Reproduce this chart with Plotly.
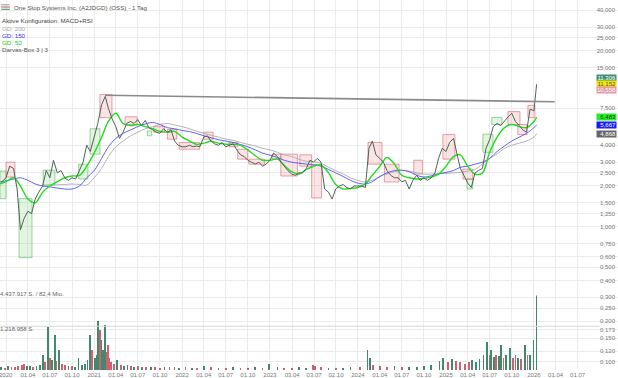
import math
import plotly.graph_objects as go

# ---------------- data ----------------
price_dates = ["2019-12-09"] + [f"{y}-{m:02d}-{d:02d}" for y in range(2020, 2026) for m in range(1, 13) for d in (1, 16)] + ["2026-01-01", "2026-01-12"]
price_close = [2.1,
    2.3, 2.8, 2.7, 1.9, 0.95, 1.15, 1.3, 1.25, 1.6, 1.8,
    2.0, 2.6, 2.3, 3.1, 2.5, 2.6, 2.3, 2.2, 2.3, 2.25,
    2.6, 3.0, 4.0, 3.6, 4.6, 5.8, 8.0, 9.2, 7.5, 6.3,
    5.5, 4.5, 5.0, 5.8, 6.0, 5.8, 6.2, 5.6, 6.1, 5.4,
    5.2, 5.0, 4.9, 5.3, 5.0, 5.2, 4.3, 4.0, 3.9, 3.9,
    4.0, 3.9, 3.95, 3.9, 4.6, 4.7, 4.3, 4.1, 4.0, 4.2,
    3.9, 4.0, 4.1, 3.7, 3.4, 3.3, 3.1, 3.0, 2.9, 3.0,
    2.8, 2.9, 3.1, 3.5, 3.3, 3.0, 2.8, 2.6, 2.45, 2.4,
    2.5, 2.5, 2.7, 3.1, 3.0, 3.2, 3.0, 1.9, 1.8, 1.6,
    1.9, 2.0, 2.05, 1.95, 1.9, 2.0, 2.0, 2.0, 1.95, 3.8,
    4.3, 3.4, 3.2, 3.0, 2.6, 2.4, 2.3, 2.3, 2.15, 2.2,
    1.9, 2.2, 2.4, 2.2, 2.3, 2.2, 2.3, 2.5, 3.2, 3.8,
    3.6, 4.2, 4.5, 3.4, 2.7, 2.4, 2.1, 1.95, 2.5, 2.6,
    2.7, 3.8, 4.4, 5.5, 5.8, 5.6, 6.1, 6.5, 6.9, 6.0,
    5.6, 5.2, 5.0, 7.4, 7.2, 11.3]

ma_dates = ["2019-12-09"] + [f"{y}-{m:02d}-01" for y in range(2020, 2026) for m in range(1, 13)] + ["2026-01-01", "2026-01-12"]
gd50 = [2.07,
    2.15, 2.3, 2.0, 1.6, 1.5, 1.8, 2.0, 2.15, 2.3, 2.37,
    2.4, 2.8, 3.5, 4.6, 6.0, 6.9, 5.8, 5.6, 5.7, 5.5,
    5.3, 5.07, 5.0, 5.07, 4.6, 4.3, 4.07, 4.15, 4.28, 4.15,
    4.07, 4.07, 4.0, 3.7, 3.35, 3.1, 3.1, 3.16, 2.85, 2.55,
    2.45, 2.65, 2.8, 2.86, 2.5, 2.05, 1.9, 1.92, 1.95, 2.07,
    2.4, 2.8, 3.25, 2.9, 2.4, 2.3, 2.25, 2.28, 2.33, 2.45,
    2.8, 3.3, 3.4, 2.8, 2.45, 2.5, 3.55, 4.6, 5.4, 5.7,
    5.5, 5.4, 6.0, 6.483]
gd150 = [2.15,
    2.18, 2.25, 2.3, 2.2, 2.07, 2.0, 1.97, 1.93, 1.9, 1.9,
    2.0, 2.3, 2.6, 3.2, 3.9, 4.5, 4.9, 5.2, 5.5, 5.75,
    5.9, 5.7, 5.4, 5.3, 5.15, 5.05, 4.9, 4.7, 4.55, 4.4,
    4.3, 4.2, 4.05, 3.9, 3.7, 3.5, 3.38, 3.25, 3.1, 3.0,
    2.95, 2.9, 2.88, 2.8, 2.65, 2.5, 2.35, 2.2, 2.1, 2.07,
    2.15, 2.35, 2.5, 2.6, 2.62, 2.55, 2.4, 2.33, 2.38, 2.45,
    2.52, 2.6, 2.75, 2.8, 2.9, 3.0, 3.2, 3.6, 3.95, 4.3,
    4.6, 4.9, 5.4, 5.667]
gd200_dates = ma_dates[6:]
gd200 = [2.0, 2.02, 2.04, 2.05, 2.07, 2.05, 2.03, 2.3, 2.7, 3.3,
    3.9, 4.3, 4.7, 5.0, 5.3, 5.5, 5.7, 5.8, 5.65, 5.5,
    5.3, 5.1, 4.9, 4.75, 4.6, 4.45, 4.35, 4.2, 4.07, 3.95,
    3.8, 3.7, 3.55, 3.4, 3.3, 3.15, 3.05, 3.02, 2.95, 2.75,
    2.6, 2.45, 2.3, 2.2, 2.14, 2.2, 2.35, 2.45, 2.55, 2.6,
    2.58, 2.5, 2.45, 2.45, 2.47, 2.48, 2.5, 2.52, 2.58, 2.65,
    2.9, 3.2, 3.45, 3.8, 4.0, 4.15, 4.3, 4.6, 4.868]

# Darvas boxes: start, end, low, high
box_up = [
    ("2019-12-07", "2020-01-01", 1.61, 2.58),
    ("2020-02-24", "2020-04-18", 0.59, 1.61),
    ("2020-06-03", "2020-07-22", 2.04, 2.62),
    ("2020-10-29", "2020-12-06", 2.25, 2.90),
    ("2020-12-15", "2021-01-25", 3.44, 5.30),
    ("2021-08-10", "2021-08-28", 4.70, 5.10),
    ("2025-03-29", "2025-04-22", 1.90, 2.25),
    ("2025-06-03", "2025-07-15", 3.55, 4.83),
    ("2025-07-10", "2025-08-21", 5.70, 6.43),
]
box_down = [
    ("2020-01-01", "2020-02-07", 2.33, 3.00),
    ("2021-01-25", "2021-03-16", 6.40, 9.50),
    ("2021-05-09", "2021-06-28", 5.70, 6.50),
    ("2021-09-05", "2021-10-20", 5.00, 5.50),
    ("2021-11-01", "2021-12-10", 4.44, 5.25),
    ("2021-12-20", "2022-03-15", 3.74, 4.20),
    ("2022-04-01", "2022-05-10", 4.44, 5.00),
    ("2022-07-15", "2022-08-20", 3.90, 4.20),
    ("2022-08-20", "2022-10-01", 3.16, 3.74),
    ("2022-10-05", "2022-12-10", 2.90, 3.16),
    ("2023-01-10", "2023-02-15", 3.16, 3.44),
    ("2023-02-15", "2023-04-25", 2.37, 3.44),
    ("2023-05-05", "2023-06-23", 2.80, 3.40),
    ("2023-06-23", "2023-08-03", 1.63, 2.85),
    ("2024-02-12", "2024-04-10", 2.90, 4.20),
    ("2024-04-20", "2024-06-20", 2.14, 2.90),
    ("2024-08-20", "2024-09-25", 2.45, 3.10),
    ("2024-12-19", "2025-02-07", 3.16, 4.80),
    ("2025-03-12", "2025-04-22", 2.25, 2.67),
    ("2025-09-15", "2025-11-04", 5.70, 7.10),
    ("2025-10-26", "2025-12-03", 4.80, 5.70),
    ("2025-12-07", "2026-01-05", 6.40, 7.90),
]

trend_dates = ["2021-02-15", "2026-03-28"]
trend_vals = [9.385, 8.394]

# volume (thousand shares), side u=up d=down
vol = [
    ("2019-12-12", 80, "u"), ("2019-12-27", 55, "d"), ("2020-01-10", 110, "u"), ("2020-01-24", 80, "d"),
    ("2020-02-07", 60, "d"), ("2020-02-21", 90, "d"), ("2020-03-06", 140, "d"), ("2020-03-16", 170, "d"),
    ("2020-03-27", 110, "u"), ("2020-04-09", 90, "u"), ("2020-04-23", 80, "d"), ("2020-05-07", 110, "u"),
    ("2020-05-21", 140, "u"), ("2020-06-03", 415, "u"), ("2020-06-12", 220, "d"), ("2020-06-23", 1190, "u"),
    ("2020-07-02", 330, "d"), ("2020-07-10", 280, "u"), ("2020-07-22", 970, "u"), ("2020-07-29", 250, "d"),
    ("2020-08-07", 550, "u"), ("2020-08-19", 170, "d"), ("2020-09-02", 140, "d"), ("2020-09-16", 110, "u"),
    ("2020-09-30", 110, "d"), ("2020-10-14", 80, "u"), ("2020-10-28", 330, "u"), ("2020-11-11", 140, "u"),
    ("2020-11-24", 170, "u"), ("2020-12-04", 280, "u"), ("2020-12-15", 970, "u"), ("2020-12-22", 550, "d"),
    ("2021-01-04", 330, "u"), ("2021-01-11", 420, "u"), ("2021-01-17", 1360, "u"), ("2021-01-25", 1110, "d"),
    ("2021-02-01", 830, "u"), ("2021-02-08", 550, "u"), ("2021-02-15", 1250, "u"), ("2021-02-22", 500, "d"),
    ("2021-02-26", 690, "d"), ("2021-03-05", 330, "d"), ("2021-03-12", 220, "d"), ("2021-03-24", 170, "d"),
    ("2021-04-07", 280, "u"), ("2021-04-21", 140, "d"), ("2021-05-05", 110, "u"), ("2021-05-19", 140, "u"),
    ("2021-06-02", 110, "d"), ("2021-06-16", 80, "u"), ("2021-07-01", 90, "d"), ("2021-07-20", 70, "u"),
    ("2021-08-05", 80, "d"), ("2021-08-25", 60, "u"), ("2021-09-10", 70, "d"), ("2021-10-01", 55, "d"),
    ("2021-10-20", 60, "u"), ("2021-11-10", 80, "d"), ("2021-12-01", 70, "d"), ("2021-12-20", 55, "u"),
    ("2022-01-15", 60, "d"), ("2022-02-10", 50, "u"), ("2022-03-05", 55, "d"), ("2022-04-01", 90, "u"),
    ("2022-05-01", 60, "d"), ("2022-06-01", 55, "u"), ("2022-07-01", 50, "d"), ("2022-08-01", 60, "u"),
    ("2022-09-01", 55, "d"), ("2022-10-01", 50, "d"), ("2022-11-01", 60, "u"), ("2022-12-01", 55, "d"),
    ("2022-12-27", 170, "u"), ("2023-02-01", 60, "u"), ("2023-03-01", 55, "d"), ("2023-04-01", 50, "d"),
    ("2023-05-01", 60, "u"), ("2023-06-01", 55, "u"), ("2023-06-28", 130, "d"), ("2023-07-06", 110, "d"),
    ("2023-08-01", 60, "d"), ("2023-09-01", 55, "u"), ("2023-10-01", 50, "d"), ("2023-11-01", 55, "u"),
    ("2023-12-01", 60, "u"), ("2024-01-10", 60, "d"), ("2024-02-10", 550, "u"), ("2024-02-20", 330, "u"),
    ("2024-03-05", 140, "d"), ("2024-04-01", 110, "d"), ("2024-05-01", 80, "d"), ("2024-06-01", 110, "u"),
    ("2024-07-01", 80, "d"), ("2024-08-01", 60, "u"), ("2024-09-01", 80, "u"), ("2024-10-01", 110, "u"),
    ("2024-11-01", 140, "u"), ("2024-12-05", 250, "u"), ("2024-12-20", 330, "u"), ("2025-01-10", 220, "d"),
    ("2025-01-25", 300, "u"), ("2025-02-10", 250, "d"), ("2025-03-01", 200, "d"), ("2025-03-20", 170, "d"),
    ("2025-04-05", 220, "d"), ("2025-04-20", 280, "u"), ("2025-05-05", 200, "u"), ("2025-05-20", 300, "u"),
    ("2025-06-05", 420, "u"), ("2025-06-20", 780, "u"), ("2025-06-30", 400, "d"), ("2025-07-08", 550, "u"),
    ("2025-07-18", 350, "u"), ("2025-07-28", 420, "d"), ("2025-08-08", 380, "u"), ("2025-08-18", 690, "u"),
    ("2025-08-28", 330, "d"), ("2025-09-08", 420, "u"), ("2025-09-25", 610, "u"), ("2025-10-06", 330, "d"),
    ("2025-10-16", 420, "d"), ("2025-10-27", 330, "u"), ("2025-11-07", 300, "d"), ("2025-11-25", 690, "u"),
    ("2025-12-05", 400, "d"), ("2025-12-15", 420, "u"), ("2025-12-30", 830, "u"), ("2026-01-12", 4438, "u"),
]
vol_ref_level = 1218.958

price_ticks = [47.5, 40, 30, 25, 20, 15, 7.5, 4, 3, 2.5, 2, 1.5, 1.25, 1, 0.75, 0.6, 0.5, 0.4,
               0.3, 0.25, 0.2, 0.173, 0.15, 0.12, 0.1, 0.087]

x_tickvals = ["2020-01-01", "2020-04-01", "2020-07-01", "2020-10-01", "2021-01-01", "2021-04-01",
              "2021-07-01", "2021-10-01", "2022-01-01", "2022-04-01", "2022-07-01", "2022-10-01",
              "2023-01-01", "2023-04-03", "2023-07-03", "2023-10-02", "2024-01-01", "2024-04-01",
              "2024-07-01", "2024-10-01", "2025-01-01", "2025-04-01", "2025-07-01", "2025-10-01",
              "2026-01-01", "2026-04-01", "2026-07-01"]
x_ticktext = ["2020", "01.04", "01.07", "01.10", "2021", "01.04", "01.07", "01.10", "2022", "01.04",
              "01.07", "01.10", "2023", "03.04", "03.07", "02.10", "2024", "01.04", "01.07", "01.10",
              "2025", "01.04", "01.07", "01.10", "2026", "01.04", "01.07"]

value_labels = [(11.306, "11,306", "#3f8f72", "white", 6),
                (11.152, "11,152", "#f5e60a", "#555", 1.5),
                (10.558, "10,558", "#e59aa6", "white", -1.5),
                (6.483, "6,483", "#22ee22", "#333", 0),
                (5.667, "5,667", "#1a1aff", "white", 0),
                (4.868, "4,868", "#666666", "white", 0)]

# ---------------- figure ----------------
fig = go.Figure()

def box_xy(boxes):
    xs, ys = [], []
    for s, e, lo, hi in boxes:
        xs += [s, e, e, s, s, None]
        ys += [lo, lo, hi, hi, lo, None]
    return xs, ys

bx, by = box_xy(box_up)
fig.add_trace(go.Scatter(x=bx, y=by, mode="lines", fill="toself", fillcolor="rgba(120,210,120,0.22)",
                         line=dict(color="rgba(80,180,80,0.7)", width=0.8), hoverinfo="skip"))
bx, by = box_xy(box_down)
fig.add_trace(go.Scatter(x=bx, y=by, mode="lines", fill="toself", fillcolor="rgba(235,130,140,0.22)",
                         line=dict(color="rgba(220,90,100,0.7)", width=0.8), hoverinfo="skip"))

fig.add_trace(go.Scatter(x=gd200_dates, y=gd200, mode="lines", line=dict(color="#b4b4b4", width=1, shape="spline")))
fig.add_trace(go.Scatter(x=ma_dates, y=gd150, mode="lines", line=dict(color="#5050ff", width=0.9, shape="spline")))
fig.add_trace(go.Scatter(x=ma_dates, y=gd50, mode="lines", line=dict(color="#22dd22", width=1.4, shape="spline")))
fig.add_trace(go.Scatter(x=price_dates, y=price_close, mode="lines", line=dict(color="#4f6358", width=1)))
fig.add_trace(go.Scatter(x=trend_dates, y=trend_vals, mode="lines", line=dict(color="#8a8a8a", width=1.6)))

up_x = [d for d, v, s in vol if s == "u"]
up_y = [v * 1000 for d, v, s in vol if s == "u"]
dn_x = [d for d, v, s in vol if s == "d"]
dn_y = [v * 1000 for d, v, s in vol if s == "d"]
bar_w = 3 * 24 * 3600 * 1000
fig.add_trace(go.Bar(x=up_x, y=up_y, yaxis="y2", marker=dict(color="#3f8a6c", line=dict(width=0)), width=bar_w))
fig.add_trace(go.Bar(x=dn_x, y=dn_y, yaxis="y2", marker=dict(color="#d06070", line=dict(width=0)), width=bar_w))

fig.add_shape(type="line", xref="paper", x0=0, x1=0.97, yref="y2", y0=vol_ref_level * 1000, y1=vol_ref_level * 1000,
              line=dict(color="#d6d6d6", width=1))

grid = "#ececec"
fig.update_layout(
    width=618, height=378,
    margin=dict(l=0, r=0, t=0, b=6),
    paper_bgcolor="white", plot_bgcolor="rgba(0,0,0,0)",
    showlegend=False, bargap=0,
    font=dict(family="Liberation Sans, Arial, sans-serif", size=6, color="#666"),
    xaxis=dict(type="date", range=["2019-12-07", "2026-12-16"], tickvals=x_tickvals, ticktext=x_ticktext,
               showgrid=True, gridcolor=grid, gridwidth=1, zeroline=False, showline=False, ticks="",
               tickfont=dict(size=6, color="#777")),
    yaxis=dict(type="log", range=[math.log10(0.087), 1.677], side="right", ticklabelposition="inside",
               tickvals=price_ticks, ticktext=[f"{v:.3f}".replace(".", ",") for v in price_ticks],
               showgrid=True, gridcolor=grid, gridwidth=1, zeroline=False, showline=False, ticks="",
               tickfont=dict(size=6, color="#777"), domain=[0, 1]),
    yaxis2=dict(domain=[0, 0.2016], range=[0, 2080000], anchor="x", showgrid=False, showticklabels=False,
                zeroline=False, showline=False, ticks=""),
)

ann = []
ann.append(dict(xref="paper", yref="paper", x=0.02, y=0.981, text="One Stop Systems Inc. (A2JDGD) (OSS) - 1 Tag",
                font=dict(size=6.2, color="#555"), xanchor="left", yanchor="middle", showarrow=False))
legend_rows = [("Aktive Konfiguration: MACD+RSI", "#444", 0.9435), ("GD: 200", "#aaaaaa", 0.922),
               ("GD: 150", "#3333ff", 0.903), ("GD: 50", "#22cc22", 0.884), ("Darvas-Box 3 | 3", "#555", 0.866)]
for t, c, yy in legend_rows:
    ann.append(dict(xref="paper", yref="paper", x=0.0, y=yy, text=t, font=dict(size=6.2, color=c),
                    xanchor="left", yanchor="middle", showarrow=False))
ann.append(dict(xref="paper", yref="paper", x=-0.004, y=1 - 296 / 372, text="4.437.917 S. / 82,4 Mio.",
                font=dict(size=6, color="#666"), xanchor="left", yanchor="middle", showarrow=False))
ann.append(dict(xref="paper", yref="paper", x=-0.004, y=1 - 331 / 372, text="1.218.958 S.",
                font=dict(size=6, color="#666"), xanchor="left", yanchor="middle", showarrow=False))
ann.append(dict(xref="x", yref="paper", x="2020-01-01", y=0, yshift=-5, text="2020",
                font=dict(size=6, color="#777"), xanchor="center", yanchor="middle", showarrow=False))
for v, t, bg, fc, sh in value_labels:
    ann.append(dict(xref="paper", yref="y", x=0.998, y=math.log10(v), yshift=sh, text=t, bgcolor=bg,
                    font=dict(size=6, color=fc), xanchor="right", yanchor="middle", showarrow=False,
                    width=19, height=6, borderpad=0, align="right"))
fig.update_layout(annotations=ann)

# legend icon lines
for i, c in enumerate(["#999999", "#d05060", "#3f8a6c"]):
    fig.add_shape(type="line", xref="paper", yref="paper", x0=0.002, x1=0.016,
                  y0=0.987 - i * 0.006, y1=0.987 - i * 0.006, line=dict(color=c, width=1))

fig.write_html("out.html")
